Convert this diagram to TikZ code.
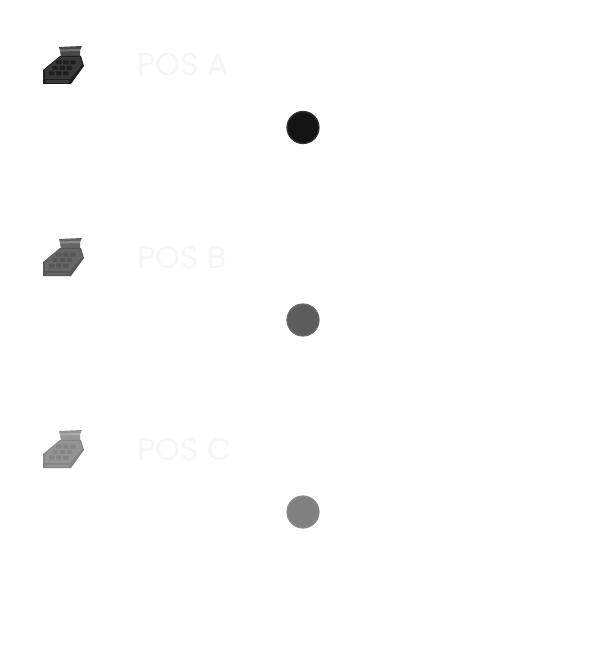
\documentclass[tikz,border=0pt]{standalone}
\usepackage{fontspec}
\newfontfamily\posfont{Poppins}
\definecolor{postext}{HTML}{F6F6F6}
\tikzset{
  postitle/.style={anchor=base west, inner sep=0pt, text=postext, font=\posfont\fontsize{31.5}{31.5}\selectfont},
  dot/.style={circle, minimum size=32pt, inner sep=0pt, line width=1.2pt},
}
\newcommand{\posicon}[5]{%
  % #1 y offset, #2 body, #3 top, #4 paper, #5 paper strip
  \begin{scope}[yshift=-#1pt]
    \fill[#4] (59,47) -- (82,46) -- (80,50) -- (80,57) -- (61,57) -- (60,51) -- cycle;
    \fill[#5] (60,49.5) -- (80,49) -- (80,51) -- (60,51.5) -- cycle;
    \fill[#2] (60,56) -- (81,56) -- (84,66) -- (71,84) -- (43,84) -- (43,70) -- cycle;
    \fill[#3] (60,57) -- (80,57) -- (82,65) -- (70,79) -- (45,79) -- (45,70) -- cycle;
    \foreach \r in {0,1,2}{
      \foreach \c in {0,1,2}{
        \fill[#2, rounded corners=0.6pt] ({56-3.5*\r+7*\c},{60.5+5.5*\r}) rectangle ++(5.5,4);
      }
    }
    \fill[#3] (46,80.5) rectangle (69,83);
  \end{scope}
}
\begin{document}
\begin{tikzpicture}[x=1pt,y=-1pt]
\useasboundingbox (0,0) rectangle (606,666);
\fill[white] (0,0) rectangle (606,666);
\posicon{0}{black!88}{black!78}{black!72}{black!55}
\posicon{192}{black!66}{black!60}{black!60}{black!45}
\posicon{384}{black!48}{black!42}{black!42}{black!32}
\node[postitle] (ta) at (137,76) {POS A};
\node[postitle] (tb) at (137,268) {POS B};
\node[postitle] (tc) at (137,460) {POS C};
\node[dot, fill=black!92, draw=black!80] (ca) at (303,127.5) {};
\node[dot, fill=black!64, draw=black!58] (cb) at (303,320) {};
\node[dot, fill=black!50, draw=black!45] (cc) at (303,512) {};
\end{tikzpicture}
\end{document}
